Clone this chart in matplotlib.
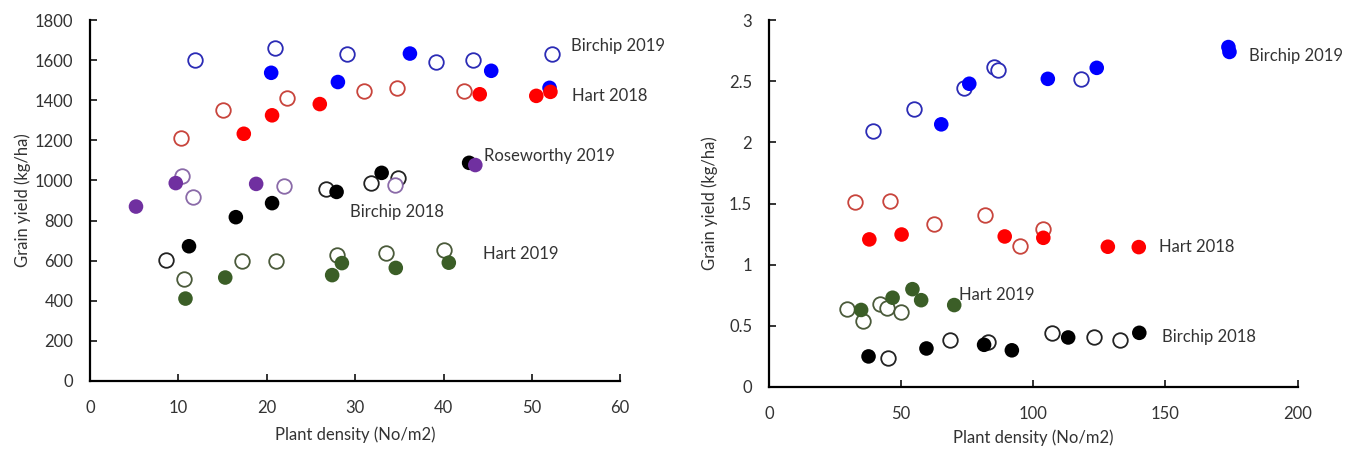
import numpy as np
import matplotlib.pyplot as plt

plt.rcParams['font.family'] = ['Lato', 'DejaVu Sans']
plt.rcParams['font.size'] = 12

# --- left panel: yield (kg/ha) vs plant density ---
b19_open_x = [11.9, 20.95, 29.05, 39.1, 43.3, 52.3]
b19_open_y = [1603, 1663, 1632, 1593, 1600, 1633]
b19_fill_x = [20.5, 28.05, 36.2, 45.4, 52.0]
b19_fill_y = [1537, 1491, 1633, 1547, 1462]

h18_open_x = [10.3, 15.1, 22.3, 31.05, 34.7, 42.3]
h18_open_y = [1213, 1352, 1411, 1448, 1462, 1445]
h18_fill_x = [17.4, 20.6, 26.0, 44.1, 50.5, 52.1]
h18_fill_y = [1233, 1325, 1381, 1430, 1422, 1442]

r19_open_x = [10.4, 11.7, 22.0, 34.5]
r19_open_y = [1020, 920, 973, 978]
r19_fill_x = [5.2, 9.7, 18.8, 43.6]
r19_fill_y = [870, 987, 983, 1077]

b18_open_x = [8.65, 26.65, 31.75, 34.9]
b18_open_y = [605, 958, 989, 1010]
b18_fill_x = [11.2, 16.5, 20.6, 27.9, 33.0, 42.9]
b18_fill_y = [672, 817, 887, 943, 1038, 1088]

h19_open_x = [10.6, 17.2, 21.1, 28.0, 33.5, 40.0]
h19_open_y = [511, 598, 598, 629, 639, 654]
h19_fill_x = [10.8, 15.3, 27.4, 28.5, 34.6, 40.6]
h19_fill_y = [411, 516, 528, 588, 564, 590]

# --- right panel: yield vs plant density ---
rb19_open_x = [39.4, 54.8, 73.8, 85.0, 86.8, 118.0]
rb19_open_y = [2.09, 2.27, 2.445, 2.62, 2.59, 2.52]
rb19_fill_x = [65.2, 75.8, 105.5, 124.0, 173.8, 174.2]
rb19_fill_y = [2.148, 2.48, 2.52, 2.61, 2.78, 2.74]

rh18_open_x = [32.6, 46.0, 62.4, 81.7, 94.9, 103.8]
rh18_open_y = [1.515, 1.525, 1.337, 1.41, 1.15, 1.29]
rh18_fill_x = [38.0, 50.2, 89.2, 103.8, 128.2, 139.9]
rh18_fill_y = [1.207, 1.247, 1.231, 1.22, 1.147, 1.144]

rh19_open_x = [29.5, 35.5, 42.0, 44.8, 49.8]
rh19_open_y = [0.64, 0.54, 0.68, 0.65, 0.61]
rh19_fill_x = [34.9, 46.8, 54.3, 57.6, 70.1]
rh19_fill_y = [0.63, 0.73, 0.80, 0.71, 0.67]

rb18_open_x = [45.2, 68.5, 82.7, 107.1, 123.1, 132.8]
rb18_open_y = [0.234, 0.386, 0.364, 0.4375, 0.41, 0.386]
rb18_fill_x = [37.7, 59.6, 81.4, 91.9, 113.2, 140.1]
rb18_fill_y = [0.25, 0.315, 0.345, 0.30, 0.405, 0.443]

# fill colour, open edge colour
c_b19 = ('#0000ff', '#2b2bb5')
c_h18 = ('#ff0000', '#c8443c')
c_r19 = ('#7030a0', '#8a6aa8')
c_b18 = ('#000000', '#222222')
c_h19 = ('#3b5e27', '#4a5a3a')

MS = 110


def pts(ax, ox, oy, fx, fy, cols):
    ax.scatter(ox, oy, s=MS, facecolors='white', edgecolors=cols[1], linewidths=1.3, zorder=3)
    ax.scatter(fx, fy, s=MS, color=cols[0], edgecolors='none', zorder=4)


def style(ax):
    for s in ['top', 'right']:
        ax.spines[s].set_visible(False)
    for s in ['left', 'bottom']:
        ax.spines[s].set_linewidth(1.6)
    ax.tick_params(direction='in', length=5, width=1.4, labelsize=12, colors='#333333')
    ax.tick_params(axis='x', pad=14)
    ax.tick_params(axis='y', pad=12)


fig = plt.figure(figsize=(13.56, 4.54), dpi=100)
ax1 = fig.add_axes([0.0664, 0.1608, 0.391, 0.795])
ax2 = fig.add_axes([0.567, 0.1476, 0.390, 0.808])

pts(ax1, b19_open_x, b19_open_y, b19_fill_x, b19_fill_y, c_b19)
pts(ax1, h18_open_x, h18_open_y, h18_fill_x, h18_fill_y, c_h18)
pts(ax1, b18_open_x, b18_open_y, b18_fill_x, b18_fill_y, c_b18)
pts(ax1, r19_open_x, r19_open_y, r19_fill_x, r19_fill_y, c_r19)
pts(ax1, h19_open_x, h19_open_y, h19_fill_x, h19_fill_y, c_h19)

ax1.set_xlim(0, 60)
ax1.set_ylim(0, 1800)
ax1.set_xticks(range(0, 61, 10))
ax1.set_yticks(range(0, 1801, 200))
style(ax1)
ax1.set_xlabel('Plant density (No/m2)', color='#333333', labelpad=7)
ax1.set_ylabel('Grain yield (kg/ha)', color='#333333', labelpad=3)

lab = dict(fontsize=12, color='#333333', va='center', ha='left')
ax1.text(54.4, 1670, 'Birchip 2019', **lab)
ax1.text(54.5, 1420, 'Hart 2018', **lab)
ax1.text(44.6, 1120, 'Roseworthy 2019', **lab)
ax1.text(29.4, 845, 'Birchip 2018', **lab)
ax1.text(44.5, 635, 'Hart 2019', **lab)

pts(ax2, rb19_open_x, rb19_open_y, rb19_fill_x, rb19_fill_y, c_b19)
pts(ax2, rh18_open_x, rh18_open_y, rh18_fill_x, rh18_fill_y, c_h18)
pts(ax2, rh19_open_x, rh19_open_y, rh19_fill_x, rh19_fill_y, c_h19)
pts(ax2, rb18_open_x, rb18_open_y, rb18_fill_x, rb18_fill_y, c_b18)

ax2.set_xlim(0, 200)
ax2.set_ylim(0, 3)
ax2.set_xticks(range(0, 201, 50))
ax2.set_yticks(np.arange(0, 3.01, 0.5))
ax2.set_yticklabels(['0', '0.5', '1', '1.5', '2', '2.5', '3'])
style(ax2)
ax2.set_xlabel('Plant density (No/m2)', color='#333333', labelpad=5)
ax2.set_ylabel('Grain yield (kg/ha)', color='#333333', labelpad=8)

ax2.text(181.5, 2.71, 'Birchip 2019', **lab)
ax2.text(147.5, 1.145, 'Hart 2018', **lab)
ax2.text(72.0, 0.75, 'Hart 2019', **lab)
ax2.text(148.7, 0.41, 'Birchip 2018', **lab)

fig.savefig('out.png', dpi=100, facecolor='white')
